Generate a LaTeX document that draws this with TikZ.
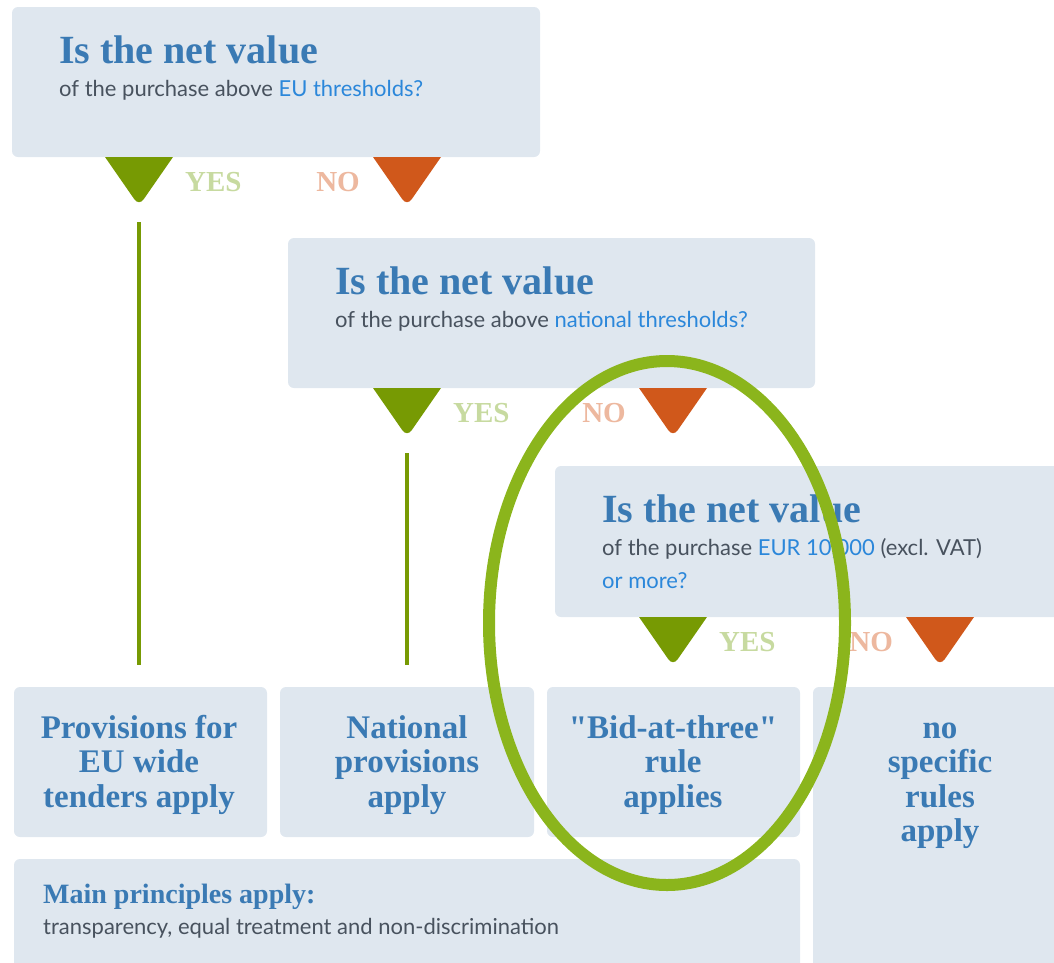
\documentclass[tikz,border=0pt]{standalone}
\usepackage{fontspec}
\setmainfont{Liberation Serif}[Ligatures=TeXOff]
\newfontfamily\latofont{Lato}
\usetikzlibrary{shapes.geometric,positioning}
\definecolor{boxgrey}{RGB}{223,231,239}
\definecolor{titleblue}{RGB}{58,122,180}
\definecolor{linkblue}{RGB}{43,135,218}
\definecolor{bodygrey}{RGB}{72,82,94}
\definecolor{yesgreen}{RGB}{119,154,3}
\definecolor{yeslight}{RGB}{199,218,160}
\definecolor{noorange}{RGB}{208,88,27}
\definecolor{nolight}{RGB}{237,184,159}
\definecolor{ringgreen}{RGB}{139,181,28}
\newcommand{\firstline}{\rule{0pt}{24pt}}

\begin{document}
\begin{tikzpicture}[x=1pt, y=-1pt,
    panel/.style={rectangle, fill=boxgrey, rounded corners=6pt, anchor=north west, inner sep=0, outer sep=0},
    qtitle/.style={anchor=base west, inner sep=0, text=titleblue, font=\bfseries\fontsize{40}{44}\selectfont},
    qsub/.style={anchor=base west, inner sep=0, text=bodygrey, font=\latofont\fontsize{22}{26}\selectfont},
    yestag/.style={anchor=base west, inner sep=0, text=yeslight, font=\bfseries\fontsize{29}{30}\selectfont},
    notag/.style={anchor=base east, inner sep=0, text=nolight, font=\bfseries\fontsize{29}{30}\selectfont},
    endlabel/.style={anchor=north, align=center, inner sep=0, text=titleblue, font=\bfseries\fontsize{33}{34.5}\selectfont},
    stem/.style={draw=yesgreen, line width=4.5pt},
    focus/.style={ellipse, draw=ringgreen, line width=12pt, minimum width=356pt, minimum height=524pt, inner sep=0}
]
\useasboundingbox (0,0) rectangle (1054,962);
\clip (0,0) rectangle (1054,962);

% Questions
\node[panel, minimum width=528pt, minimum height=150pt] (q1) at (12,7) {};
\node[qtitle] (q1title) at (59,63) {Is the net value};
\node[qsub] (q1sub) at (59,96) {of the purchase above \textcolor{linkblue}{EU thresholds?}};

\node[panel, minimum width=527pt, minimum height=150pt] (q2) at (288,238) {};
\node[qtitle] (q2title) at (335,294) {Is the net value};
\node[qsub] (q2sub) at (335,327) {of the purchase above \textcolor{linkblue}{national thresholds?}};

\node[panel, minimum width=530pt, minimum height=151pt] (q3) at (555,466) {};
\node[qtitle] (q3title) at (602,522) {Is the net value};
\node[qsub] (q3sub) at (602,555) {of the purchase \textcolor{linkblue}{EUR 10,000} (excl. VAT)};
\node[qsub, text=linkblue] (q3more) at (602,588) {or more?};

% Outcomes
\node[panel, minimum width=253pt, minimum height=150pt] (b1) at (14,687) {};
\node[panel, minimum width=254pt, minimum height=150pt] (b2) at (280,687) {};
\node[panel, minimum width=253pt, minimum height=150pt] (b3) at (547,687) {};
\node[panel, minimum width=260pt, minimum height=300pt] (b4) at (813,687) {};
\node[panel, minimum width=786pt, minimum height=130pt] (mp) at (14,859) {};

\node[endlabel] (b1text) at (139,714) {\firstline Provisions for\\EU wide\\tenders apply};
\node[endlabel] (b2text) at (407,714) {\firstline National\\provisions\\apply};
\node[endlabel] (b3text) at (673,714) {\firstline "Bid-at-three"\\rule\\applies};
\node[endlabel] (b4text) at (940,714) {\firstline no\\specific\\rules\\apply};

\node[anchor=base west, inner sep=0, text=titleblue, font=\bfseries\fontsize{28}{30}\selectfont] (mptitle) at (43,903) {Main principles apply:};
\node[qsub] (mptext) at (43,934) {transparency, equal treatment and non-discrimination};

% Drops
\foreach \n/\x/\y in {yes1/139/157, yes2/407/388, yes3/673/617} {
  \fill[yesgreen] (\x-34,\y) -- (\x+34,\y) [rounded corners=8pt] -- (\x,\y+49) [sharp corners] -- cycle;
  \coordinate (\n) at (\x,\y+49);
  \node[yestag] (\n tag) at (\x+46,\y+34) {YES};
}
\foreach \n/\x/\y in {no1/407/157, no2/673/388, no3/940/617} {
  \fill[noorange] (\x-34,\y) -- (\x+34,\y) [rounded corners=8pt] -- (\x,\y+49) [sharp corners] -- cycle;
  \coordinate (\n) at (\x,\y+49);
  \node[notag] (\n tag) at (\x-47,\y+34) {NO};
}

% Connections
\draw[stem, shorten <=16pt, shorten >=22pt] (yes1) -- (yes1 |- b1.north);
\draw[stem, shorten <=16pt, shorten >=22pt] (yes2) -- (yes2 |- b2.north);

% Highlight
\node[focus] (focus) at (667,623) {};

\end{tikzpicture}
\end{document}
